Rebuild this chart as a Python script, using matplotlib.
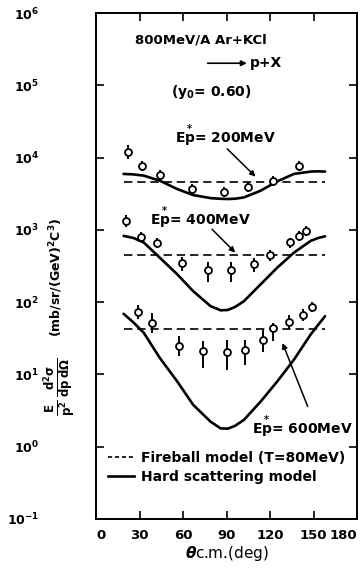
import numpy as np
import matplotlib
matplotlib.use("Agg")
import matplotlib.pyplot as plt
from matplotlib.lines import Line2D

plt.rcParams.update({
    "font.family": "DejaVu Sans",
    "font.weight": "bold",
    "font.size": 10,
    "mathtext.fontset": "dejavusans",
    "axes.linewidth": 1.4,
    "lines.scale_dashes": False,
})

# ---- measured invariant cross sections (theta_cm in deg, mb/sr/(GeV^2 c^3))
th200 = [22, 32, 44, 66, 88, 105, 122, 140]
y200 = [11900, 7700, 5800, 3700, 3300, 3900, 4800, 7600]
up200 = [0.25, 0.17, 0.17, 0.17, 0.17, 0.17, 0.17, 0.17]
dn200 = [0.20, 0.15, 0.15, 0.15, 0.15, 0.15, 0.15, 0.15]

th400 = [21, 31, 42, 59, 77, 93, 109, 120, 134, 140, 145]
y400 = [1330, 800, 650, 350, 275, 275, 340, 450, 670, 830, 970]
up400 = [0.21, 0.17, 0.17, 0.21, 0.29, 0.29, 0.21, 0.17, 0.17, 0.17, 0.17]
dn400 = [0.17, 0.15, 0.15, 0.23, 0.30, 0.30, 0.23, 0.17, 0.17, 0.15, 0.15]

th600 = [29, 38.5, 57, 74, 90, 103, 115, 122, 133, 143, 149]
y600 = [73, 52, 24.5, 21, 20.5, 22, 30, 44, 53, 67, 85]
up600 = [0.27, 0.38, 0.38, 0.38, 0.47, 0.38, 0.38, 0.17, 0.25, 0.19, 0.17]
dn600 = [0.21, 0.27, 0.27, 0.42, 0.44, 0.38, 0.32, 0.34, 0.20, 0.17, 0.15]

# ---- hard scattering model curves
hs_theta = [19, 26, 33, 44, 56, 67, 79, 86, 91, 96, 102, 113.5, 125, 136.5, 148, 153, 158]
hs200 = [5940, 5850, 5620, 4790, 3670, 3030, 2750, 2690, 2670, 2700, 2810, 3480, 4690, 5940, 6400, 6450, 6400]
hs400 = [826, 770, 667, 412, 243, 142, 88, 77, 78, 86, 103, 176, 300, 484, 703, 770, 813]
hs600 = [69, 52, 37.5, 16.9, 8.0, 3.8, 2.22, 1.79, 1.78, 1.95, 2.35, 4.2, 8.0, 16.0, 35.6, 48, 64]

# ---- fireball model (T = 80 MeV), isotropic in cm
fb_theta = [19, 158]
fb200 = 4600
fb400 = 446
fb600 = 42

fig = plt.figure(figsize=(3.6, 5.71), dpi=100)
ax = fig.add_axes([0.2667, 0.0911, 0.725, 0.8861])

dash = (6, 3.5)
for fb in (fb200, fb400, fb600):
    ax.plot(fb_theta, [fb, fb], color="black", lw=1.2, dashes=dash)

for hs in (hs200, hs400, hs600):
    ax.plot(hs_theta, hs, color="black", lw=1.9, solid_capstyle="round",
            solid_joinstyle="round")

for th, y, up, dn in ((th200, y200, up200, dn200),
                      (th400, y400, up400, dn400),
                      (th600, y600, up600, dn600)):
    y = np.array(y, dtype=float)
    yerr = [y * np.array(dn), y * np.array(up)]
    ax.errorbar(th, y, yerr=yerr, fmt="o", ms=5, mfc="white", mec="black",
                mew=1.3, ecolor="black", elinewidth=1.4, capsize=0, zorder=3)

ax.set_yscale("log")
ax.set_xlim(0, 180)
ax.set_ylim(0.1, 1e6)
ax.set_xticks([0, 30, 60, 90, 120, 150, 180])
ax.set_xticklabels(["0", "30", "60", "90", "120", "150", "180"])
ax.get_xticklabels()[-1].set_ha("right")
ax.get_xticklabels()[0].set_ha("left")
yt = [1e-1, 1, 10, 1e2, 1e3, 1e4, 1e5, 1e6]
ax.set_yticks(yt)
ax.set_yticklabels([r"$\mathbf{10^{%d}}$" % e for e in range(-1, 7)])
ax.minorticks_off()
ax.tick_params(direction="in", length=6, width=1.2, top=True, right=True,
               labelsize=9.5)
ax.tick_params(axis="y", pad=41, labelsize=9)
ax.tick_params(axis="x", pad=7)

ax.set_xlabel(r"$\mathit{\theta}$c.m.(deg)", fontsize=11, labelpad=2)
fig.text(0.167, 0.322,
         r"$\mathbf{\frac{E}{p^2}\,\frac{d^2\sigma}{dp\,d\Omega}}$",
         rotation=90, ha="center", va="center", fontsize=12)
fig.text(0.155, 0.515, r"(mb/sr/(GeV)$^\mathbf{2}$C$^\mathbf{3}$)",
         rotation=90, ha="center", va="center", fontsize=9)

# reaction label
ax.text(72, 4.2e5, "800MeV/A Ar+KCl", ha="center", va="center", fontsize=9.5)
ax.annotate("", xy=(104, 2.02e5), xytext=(77, 2.02e5),
            arrowprops=dict(arrowstyle="-|>", lw=1.2, color="black",
                            mutation_scale=8, shrinkA=0, shrinkB=0))
ax.text(106, 2.02e5, "p+X", ha="left", va="center", fontsize=10)
ax.text(79.6, 8.0e4, r"(y$_\mathbf{0}$= 0.60)", ha="center", va="center", fontsize=10)

arrow = dict(arrowstyle="-|>", lw=1.1, color="black", mutation_scale=8,
             shrinkA=0, shrinkB=0)
ep = r"E$\overset{\mathbf{*}}{\mathbf{p}}$= %dMeV"
ax.text(89, 2.02e4, ep % 200, ha="center", va="center", fontsize=10)
ax.annotate("", xy=(110, 5450), xytext=(90.5, 13200), arrowprops=arrow)

ax.text(72, 1470, ep % 400, ha="center", va="center", fontsize=10)
ax.annotate("", xy=(96, 485), xytext=(80, 1020), arrowprops=arrow)

ax.text(142.5, 1.9, ep % 600, ha="center", va="center", fontsize=10)
ax.annotate("", xy=(128.6, 27.2), xytext=(146, 3.6), arrowprops=arrow)

handles = [Line2D([], [], color="black", lw=1.2, dashes=(3, 2)),
           Line2D([], [], color="black", lw=1.9)]
ax.legend(handles, ["Fireball model (T=80MeV)", "Hard scattering model"],
          loc="upper left", bbox_to_anchor=(0.045, 0.134), frameon=False,
          handlelength=1.9, handletextpad=0.5, labelspacing=0.35,
          borderpad=0, borderaxespad=0, fontsize=10)

fig.savefig("out.png", dpi=100)
